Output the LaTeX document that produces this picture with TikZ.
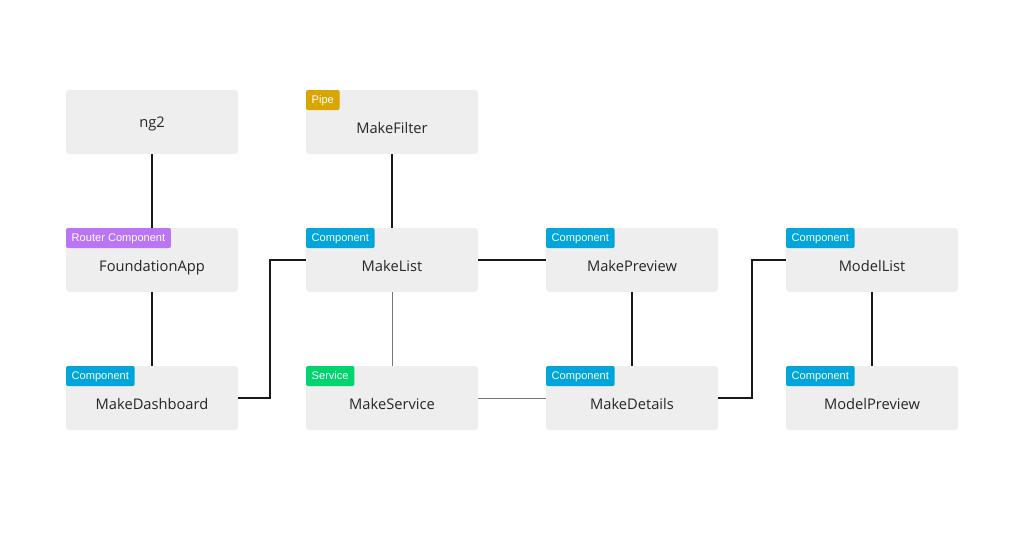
\documentclass[tikz,border=0pt]{standalone}
\usepackage{fontspec}
\setmainfont{Open Sans}
\newfontfamily\tagfont{Liberation Sans}
\usetikzlibrary{positioning}

\definecolor{boxgray}{HTML}{EEEEEE}
\definecolor{routerpurple}{HTML}{BC74F7}
\definecolor{compblue}{HTML}{00A5DC}
\definecolor{pipegold}{HTML}{D9A500}
\definecolor{servicegreen}{HTML}{00D46C}
\definecolor{linegray}{HTML}{777777}

\tikzset{
    box/.style={fill=boxgray, rounded corners=2.5pt, minimum width=129pt, minimum height=48pt,
        inner sep=0pt, font=\fontsize{11}{13}\selectfont, text=black!85, text height=11pt, text depth=2.5pt},
    tagged/.style={box, text height=20pt},
    tag/.style={anchor=north west, rounded corners=1.5pt, text=white, inner xsep=4.3pt, inner ysep=0pt,
        minimum height=15pt, text height=6pt, text depth=1pt, font=\tagfont\fontsize{8.3}{10}\selectfont},
    link/.style={line width=1.6pt, black!90},
    thinlink/.style={line width=0.7pt, linegray}
}

\begin{document}
\begin{tikzpicture}[x=0.75pt, y=-0.75pt]
    % Fix the page size
    \useasboundingbox (0,0) rectangle (1024,533);

    % Boxes
    \node[box] (ng) at (152,122) {ng2};
    \node[tagged] (found) at (152,260) {FoundationApp};
    \node[tagged] (dash) at (152,398) {MakeDashboard};
    \node[tagged] (filter) at (392,122) {MakeFilter};
    \node[tagged] (mlist) at (392,260) {MakeList};
    \node[tagged] (service) at (392,398) {MakeService};
    \node[tagged] (preview) at (632,260) {MakePreview};
    \node[tagged] (details) at (632,398) {MakeDetails};
    \node[tagged] (modlist) at (872,260) {ModelList};
    \node[tagged] (modprev) at (872,398) {ModelPreview};

    % Tags in the top left corners
    \node[tag, fill=routerpurple] (foundtag) at (found.north west) {Router Component};
    \node[tag, fill=compblue] (dashtag) at (dash.north west) {Component};
    \node[tag, fill=pipegold] (filtertag) at (filter.north west) {Pipe};
    \node[tag, fill=compblue] (mlisttag) at (mlist.north west) {Component};
    \node[tag, fill=servicegreen] (servicetag) at (service.north west) {Service};
    \node[tag, fill=compblue] (previewtag) at (preview.north west) {Component};
    \node[tag, fill=compblue] (detailstag) at (details.north west) {Component};
    \node[tag, fill=compblue] (modlisttag) at (modlist.north west) {Component};
    \node[tag, fill=compblue] (modprevtag) at (modprev.north west) {Component};

    % Connectors
    \draw[link] (ng) -- (found);
    \draw[link] (found) -- (dash);
    \draw[link] (dash.east) -- ++(32,0) |- (mlist.west);
    \draw[link] (filter) -- (mlist);
    \draw[link] (mlist) -- (preview);
    \draw[thinlink] (mlist) -- (service);
    \draw[thinlink] (service) -- (details);
    \draw[link] (preview) -- (details);
    \draw[link] (details.east) -- ++(34,0) |- (modlist.west);
    \draw[link] (modlist) -- (modprev);
\end{tikzpicture}
\end{document}
